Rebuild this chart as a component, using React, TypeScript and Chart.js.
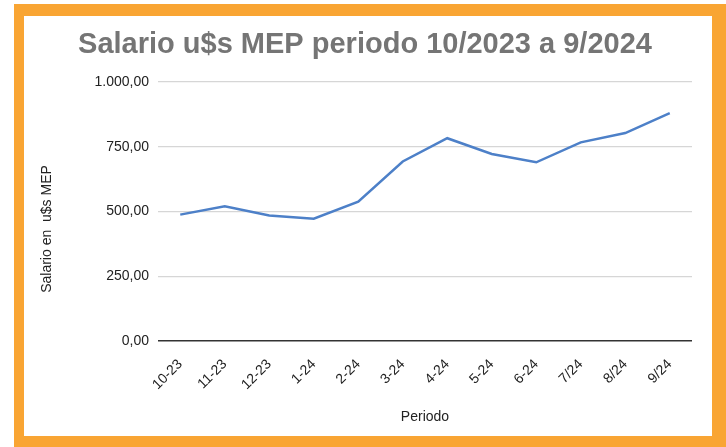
import React, { useEffect, useRef } from "react";
import { Chart, registerables } from "chart.js";

Chart.register(...registerables);

const periods = ["10-23", "11-23", "12-23", "1-24", "2-24", "3-24", "4-24", "5-24", "6-24", "7/24", "8/24", "9/24"];
const salaryUsdMep = [488, 520, 485, 472, 538, 693, 783, 722, 690, 767, 803, 880];
const yTickLabels = ["0,00", "250,00", "500,00", "750,00", "1.000,00"];
const chartTitle = "Salario u$s MEP periodo 10/2023 a 9/2024";
const yTitle = "Salario en  u$s MEP";
const xTitle = "Periodo";

const FONT = "'Liberation Sans', Arial, sans-serif";

const textPlugin = {
  id: "customTexts",
  afterDraw(chart: any) {
    const ctx = chart.ctx;
    const area = chart.chartArea;
    ctx.save();
    ctx.textAlign = "center";
    ctx.textBaseline = "alphabetic";
    ctx.fillStyle = "#757575";
    ctx.font = `bold 29px ${FONT}`;
    ctx.fillText(chartTitle, 341, 37);
    ctx.textBaseline = "middle";
    ctx.fillStyle = "#222222";
    ctx.font = `14px ${FONT}`;
    ctx.fillText(xTitle, (area.left + area.right) / 2, 401);
    ctx.translate(23, 213);
    ctx.rotate(-Math.PI / 2);
    ctx.fillText(yTitle, 0, 0);
    ctx.restore();
  },
};

export default function App() {
  const ref = useRef<HTMLCanvasElement | null>(null);
  useEffect(() => {
    if (!ref.current) return;
    const chart = new Chart(ref.current, {
      type: "line",
      data: {
        labels: periods,
        datasets: [
          {
            data: salaryUsdMep,
            borderColor: "#4d80c8",
            borderWidth: 2.5,
            pointRadius: 0,
            tension: 0,
            fill: false,
          },
        ],
      },
      plugins: [textPlugin],
      options: {
        animation: false,
        responsive: false,
        maintainAspectRatio: false,
        layout: { padding: { top: 66, left: 0, right: 20, bottom: 0 } },
        plugins: { legend: { display: false }, title: { display: false }, tooltip: { enabled: false } },
        scales: {
          x: {
            offset: true,
            grid: { display: false },
            border: { display: false },
            ticks: {
              minRotation: 45,
              maxRotation: 45,
              padding: 7,
              color: "#222222",
              font: { family: FONT, size: 14 },
            },
            afterFit: (s: any) => {
              s.height = 95;
            },
          },
          y: {
            min: 0,
            max: 1000,
            border: { display: false },
            grid: {
              drawTicks: false,
              color: (c: any) => (c.tick && c.tick.value === 0 ? "#333333" : "#d6d6d6"),
              lineWidth: (c: any) => (c.tick && c.tick.value === 0 ? 1.5 : 1.2),
            },
            ticks: {
              stepSize: 250,
              padding: 9,
              color: "#222222",
              font: { family: FONT, size: 14 },
              callback: (v: any) => yTickLabels[Math.round(Number(v) / 250)],
            },
            afterFit: (s: any) => {
              s.width = 134;
            },
          },
        },
      },
    });
    return () => chart.destroy();
  }, []);

  return (
    <div style={{ position: "absolute", left: 0, top: 0, width: 726, height: 447, background: "#ffffff", overflow: "hidden" }}>
      <div style={{ position: "absolute", left: 14, top: 4, width: 712, height: 443, background: "#F9A533" }} />
      <div style={{ position: "absolute", left: 24, top: 16, width: 688, height: 420, background: "#ffffff" }}>
        <canvas ref={ref} width={688} height={420} style={{ display: "block", width: 688, height: 420 }} />
      </div>
    </div>
  );
}
